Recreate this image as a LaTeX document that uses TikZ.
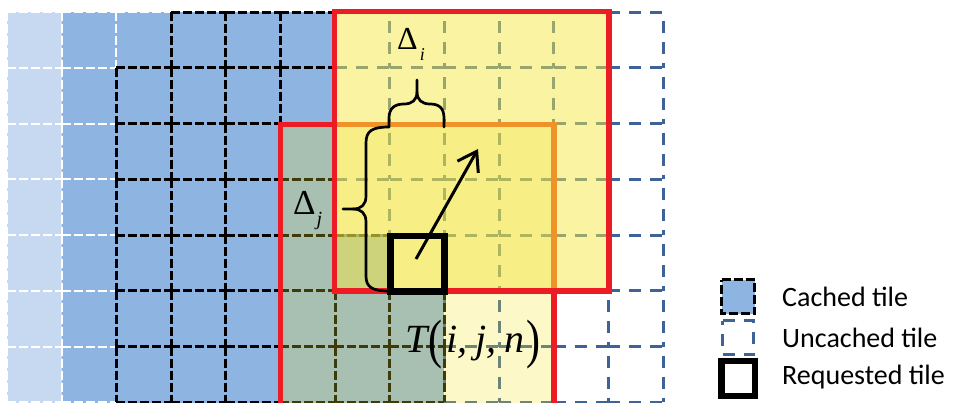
\documentclass[tikz,border=0pt]{standalone}
\usepackage{graphicx}
\usepackage{fontspec}
\setmainfont{Carlito}
\newfontfamily\tnr{Liberation Serif}
\usetikzlibrary{arrows.meta}
\definecolor{lblue}{RGB}{198,217,240}
\definecolor{mblue}{RGB}{142,180,226}
\definecolor{udash}{RGB}{62,99,150}
\definecolor{redc}{RGB}{237,28,36}
\definecolor{orangec}{RGB}{240,146,42}
\definecolor{blyellow}{RGB}{243,228,43}
\definecolor{tryellow}{RGB}{243,231,69}
\tikzset{
  uncachedb/.style={draw=udash, line width=3pt, dash pattern=on 12pt off 9pt},
  cachedb/.style={draw=black, line width=3pt, dash pattern=on 9pt off 3pt},
  whiteb/.style={draw=white, line width=2pt, dash pattern=on 9pt off 3pt},
  redbox/.style={draw=redc, line width=5.5pt},
  orangebox/.style={draw=orangec, line width=5.5pt},
  reqbox/.style={draw=black, line width=6.8pt},
  bracepen/.style={draw=black, line width=2.7pt, line cap=round, line join=round},
  legtext/.style={anchor=base west, inner sep=0pt, font=\fontsize{28}{28}\selectfont},
}
% #1 style, #2 column, #3 row
\newcommand\tileEdges[3]{%
  \draw[#1] ({7+54.667*#2},{12+55.75*#3}) -- ++(54.667,0)
            ({7+54.667*#2},{12+55.75*(#3+1)}) -- ++(54.667,0);
  \draw[#1, dash phase=12pt] ({7+54.667*#2},{12+55.75*#3}) -- ++(0,55.75)
            ({7+54.667*(#2+1)},{12+55.75*#3}) -- ++(0,55.75);}
\begin{document}
\begin{tikzpicture}[x=1pt,y=-1pt]
\useasboundingbox (0,0) rectangle (954,402);
\clip (0,0) rectangle (954,402);
% tile fills
\fill[lblue] (7,12) rectangle (61.667,420);
\fill[mblue] (61.667,12) rectangle (334.5,420);
\fill[mblue] (334.5,235) rectangle (389.17,420);
\fill[mblue] (389.17,290.75) rectangle (443.83,420);
% white bordered tiles
\foreach \r in {0,...,6}{\foreach \c in {0,1}{\tileEdges{whiteb}{\c}{\r}}}
\tileEdges{whiteb}{2}{0}
% uncached tiles
\foreach \r in {0,...,3}{\foreach \c in {6,...,11}{\tileEdges{uncachedb}{\c}{\r}}}
\foreach \c in {7,...,11}{\tileEdges{uncachedb}{\c}{4}}
\foreach \r in {5,6}{\foreach \c in {8,...,11}{\tileEdges{uncachedb}{\c}{\r}}}
% cached tiles
\foreach \c in {3,4,5}{\tileEdges{cachedb}{\c}{0}}
\foreach \r in {1,...,6}{\foreach \c in {2,...,5}{\tileEdges{cachedb}{\c}{\r}}}
\foreach \r in {4,5,6}{\tileEdges{cachedb}{6}{\r}}
\foreach \r in {5,6}{\tileEdges{cachedb}{7}{\r}}
% overlays
\fill[blyellow, fill opacity=0.26] (280.5,124.5) rectangle (554,420);
\fill[tryellow, fill opacity=0.5] (334.5,11.5) rectangle (609,291);
\draw[redbox] (280.5,124.5) rectangle (554,410);
\draw[orangebox] (334.5,124.5) rectangle (554,291);
\draw[redbox] (334.5,11.5) rectangle (609,291);
% requested tile
\draw[reqbox] (390.5,236) rectangle (444.5,291.5);
% braces
\draw[bracepen] (389,127) -- (389,118) .. controls (389,108) and (395,104) .. (404,104)
  .. controls (412,104) and (417,100) .. (417,92) -- (417,80);
\draw[bracepen] (417,92) .. controls (417,100) and (422,104) .. (430,104)
  .. controls (439,104) and (444,108) .. (444,118) -- (444,127);
\draw[bracepen] (389,127) .. controls (372,127) and (366,131) .. (366,143) -- (366,196)
  .. controls (366,205) and (361,209) .. (353,209) -- (343,209);
\draw[bracepen] (353,209) .. controls (361,209) and (366,213) .. (366,222) -- (366,276)
  .. controls (366,287) and (372,291) .. (389,291);
% arrow
\coordinate (arrS) at (416,259);
\coordinate (arrE) at (478,149);
\draw[line width=3pt, -{Straight Barb[length=18pt,width=24pt]}] (arrS) -- (arrE);
% labels
\node[anchor=base west, inner sep=0pt] (di) at (397,49)
  {\tnr\fontsize{32}{32}\selectfont Δ\kern2pt\raisebox{-11pt}{\fontsize{18}{18}\selectfont\itshape i}};
\node[anchor=base west, inner sep=0pt] (dj) at (293,214)
  {\tnr\fontsize{35}{35}\selectfont Δ\kern1pt\raisebox{-11pt}{\fontsize{20}{20}\selectfont\itshape j}};
\node[anchor=base west, inner sep=0pt] (tl) at (405,352)
  {\tnr\fontsize{40}{40}\selectfont\itshape T\kern1pt\raisebox{-5pt}{\scalebox{1.05}[1.35]{\upshape(}}\kern4pt i,\kern8pt j,\kern8pt n\kern2pt\raisebox{-5pt}{\scalebox{1.05}[1.35]{\upshape)}}};
% legend
\filldraw[fill=mblue, cachedb] (721.5,279.5) -- (754.5,279.5) -- (754.5,313.5) -- (721.5,313.5) -- cycle;
\draw[uncachedb] (722.5,320.5) -- (753.5,320.5) -- (753.5,354.5) -- (722.5,354.5) -- cycle;
\draw[reqbox] (721.7,361) rectangle (755,396);
\node[legtext] (l1) at (782,306) {Cached tile};
\node[legtext] (l2) at (782,347) {Uncached tile};
\node[legtext] (l3) at (782,384) {Requested tile};
\end{tikzpicture}
\end{document}
